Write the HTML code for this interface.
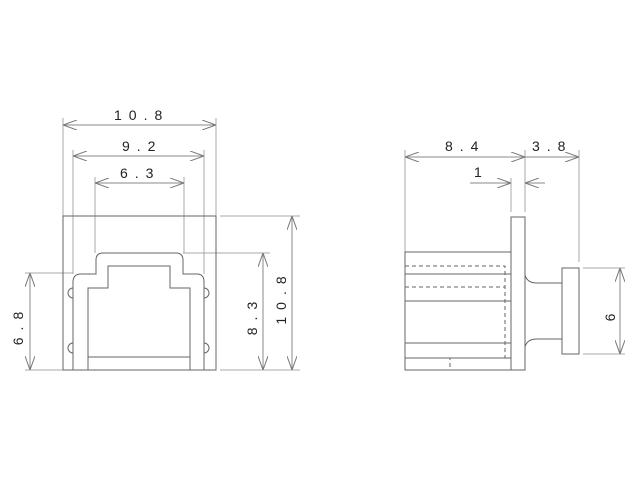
<!DOCTYPE html>
<html><head><style>
html,body{margin:0;padding:0;background:#fff;}
svg text{font-family:"Liberation Sans",sans-serif;font-size:14px;fill:#222;letter-spacing:7px;}
</style></head><body>
<svg width="640" height="480" viewBox="0 0 640 480" xmlns="http://www.w3.org/2000/svg">
<defs>
<marker id="a" viewBox="0 0 14 10" refX="14" refY="5" markerWidth="14" markerHeight="10" markerUnits="userSpaceOnUse" orient="auto-start-reverse">
<path d="M0,0 L14,5 L0,10" fill="none" stroke="#777" stroke-width="1"/>
</marker>
</defs>
<g fill="none" stroke="#aaa" stroke-width="1">
<line x1="63" y1="118" x2="63" y2="216"/>
<line x1="216" y1="118" x2="216" y2="216"/>
<line x1="73" y1="150" x2="73" y2="274"/>
<line x1="204" y1="150" x2="204" y2="274"/>
<line x1="95" y1="177" x2="95" y2="253"/>
<line x1="184" y1="177" x2="184" y2="253"/>
<line x1="25" y1="273" x2="73" y2="273"/>
<line x1="25" y1="370" x2="63" y2="370"/>
<line x1="183" y1="253" x2="270" y2="253"/>
<line x1="220" y1="216" x2="300" y2="216"/>
<line x1="220" y1="370" x2="300" y2="370"/>
<line x1="405" y1="150" x2="405" y2="252"/>
<line x1="525" y1="150" x2="525" y2="212"/>
<line x1="579" y1="150" x2="579" y2="262"/>
<line x1="511" y1="178" x2="511" y2="212"/>
<line x1="583" y1="268" x2="625" y2="268"/>
<line x1="583" y1="354" x2="625" y2="354"/>
</g>
<g fill="none" stroke="#888" stroke-width="1">
<line x1="63" y1="125" x2="216" y2="125" marker-start="url(#a)" marker-end="url(#a)"/>
<line x1="73" y1="156" x2="204" y2="156" marker-start="url(#a)" marker-end="url(#a)"/>
<line x1="95" y1="183" x2="184" y2="183" marker-start="url(#a)" marker-end="url(#a)"/>
<line x1="30" y1="273" x2="30" y2="370" marker-start="url(#a)" marker-end="url(#a)"/>
<line x1="263" y1="253" x2="263" y2="370" marker-start="url(#a)" marker-end="url(#a)"/>
<line x1="292" y1="216" x2="292" y2="370" marker-start="url(#a)" marker-end="url(#a)"/>
<line x1="405" y1="157" x2="525" y2="157" marker-start="url(#a)" marker-end="url(#a)"/>
<line x1="525" y1="157" x2="579" y2="157" marker-end="url(#a)"/>
<line x1="470" y1="183" x2="511" y2="183" marker-end="url(#a)"/>
<line x1="545" y1="183" x2="525" y2="183" marker-end="url(#a)"/>
<line x1="620" y1="268" x2="620" y2="354" marker-start="url(#a)" marker-end="url(#a)"/>
</g>
<g fill="none" stroke="#666" stroke-width="1">
<rect x="63" y="216" width="153" height="154"/>
<path d="M73,370 V282 Q73,274 81,274 H96 V260 Q96,253 103,253 H176 Q183,253 183,260 V274 H197 Q204,274 204,282 V370"/>
<path d="M88,370 V288 H108 V266 H170 V288 H190 V370"/>
<line x1="88" y1="357" x2="190" y2="357"/>
<path d="M73,288 A5,5 0 0 0 73,298"/>
<path d="M73,343 A5,5 0 0 0 73,353"/>
<path d="M204,288 A5,5 0 0 1 204,298"/>
<path d="M204,343 A5,5 0 0 1 204,353"/>
<rect x="405" y="252" width="106" height="118"/>
<rect x="511" y="217" width="14" height="153"/>
<rect x="562" y="268" width="17" height="86"/>
<path d="M525,275 Q527,283 537,283 H562"/>
<path d="M525,347 Q527,339 537,339 H562"/>
<line x1="405" y1="274" x2="511" y2="274"/>
<line x1="405" y1="301" x2="511" y2="301"/>
<line x1="405" y1="343" x2="511" y2="343"/>
<line x1="405" y1="358" x2="511" y2="358"/>
<g stroke-dasharray="4,3">
<path d="M405,266 H505 V358 H450 V370"/>
<line x1="405" y1="287" x2="505" y2="287"/>
</g>
</g>
<text x="114" y="120">10.8</text>
<text x="122" y="151">9.2</text>
<text x="120" y="178">6.3</text>
<text x="445" y="151">8.4</text>
<text x="532" y="151">3.8</text>
<text x="474" y="177">1</text>
<text transform="translate(23,325) rotate(-90)" text-anchor="middle">6.8</text>
<text transform="translate(257,315) rotate(-90)" text-anchor="middle">8.3</text>
<text transform="translate(286,297) rotate(-90)" text-anchor="middle">10.8</text>
<text transform="translate(615,314) rotate(-90)" text-anchor="middle">6</text>
</svg>
</body></html>
